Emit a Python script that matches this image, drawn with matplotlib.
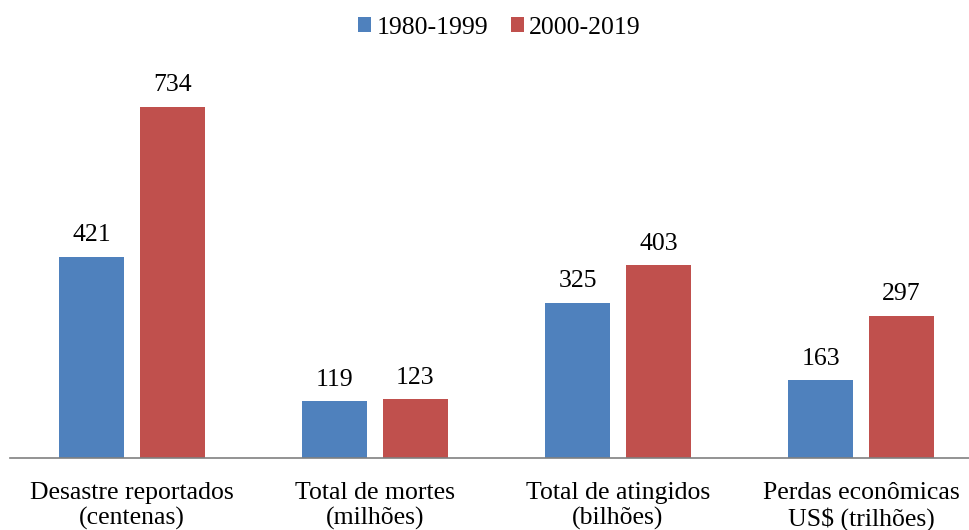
import numpy as np
import matplotlib.pyplot as plt

plt.rcParams['font.family'] = ['Liberation Serif', 'DejaVu Serif']

categorias = ['Desastre reportados\n(centenas)', 'Total de mortes\n(milhões)',
              'Total de atingidos\n(bilhões)', 'Perdas econômicas\nUS$ (trilhões)']
periodo_1 = [421, 119, 325, 163]
periodo_2 = [734, 123, 403, 297]
series = ['1980-1999', '2000-2019']
cores = ['#4F81BD', '#C0504D']

fig = plt.figure(figsize=(9.7, 5.3), dpi=100)
ax = fig.add_axes([10.5 / 970, 72 / 530, 972 / 970, 408 / 530])

x = np.arange(len(categorias))
w = 0.267
gap = 0.066
b1 = ax.bar(x - (w + gap) / 2, periodo_1, w, color=cores[0], label=series[0])
b2 = ax.bar(x + (w + gap) / 2, periodo_2, w, color=cores[1], label=series[1])

for barras in (b1, b2):
    for b in barras:
        ax.text(b.get_x() + b.get_width() / 2, b.get_height() + 22, str(int(b.get_height())),
                ha='center', va='bottom', fontsize=18.5)

ax.set_xlim(-0.5, 3.5)
ax.set_ylim(0, 853)
ax.set_xticks(x)
ax.set_xticklabels(categorias, fontsize=18.5, linespacing=1.2)
ax.tick_params(axis='x', length=0, pad=17)
ax.set_yticks([])
for s in ['top', 'right', 'left']:
    ax.spines[s].set_visible(False)
ax.spines['bottom'].set_color('#808080')
ax.spines['bottom'].set_linewidth(1.2)

fig.legend(loc='upper center', bbox_to_anchor=(0.515, 1.012), ncol=2, frameon=False,
           fontsize=18.5, handlelength=0.5, handleheight=0.5, handletextpad=0.2,
           columnspacing=0.9)

fig.savefig('out.png', dpi=100)
